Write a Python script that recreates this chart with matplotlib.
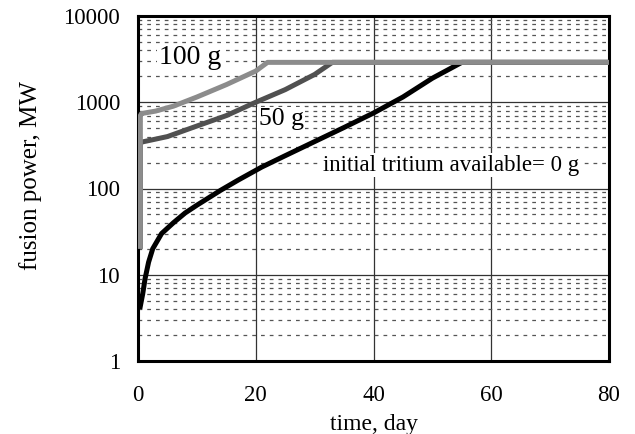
import numpy as np
import matplotlib
matplotlib.use('Agg')
import matplotlib.pyplot as plt
from matplotlib.ticker import LogLocator, NullFormatter

plt.rcParams['font.family'] = ['Liberation Serif', 'DejaVu Serif']

# curves (time in days, power in MW)
t_100 = [0.4, 0.4, 0.6, 3, 6, 10, 15, 20, 22, 80]
p_100 = [20, 700, 740, 790, 900, 1150, 1600, 2300, 2900, 2900]

t_50 = [0.4, 0.4, 0.6, 5, 10, 15, 20, 25, 30, 33, 80]
p_50 = [20, 330, 345, 400, 530, 700, 1000, 1400, 2100, 2900, 2900]

t_0 = [0.3, 0.8, 1.2, 1.8, 2.5, 4, 6, 8, 10, 14, 17, 21, 25, 30, 35, 40, 45, 50, 55, 80]
p_0 = [4, 6, 9, 14, 20, 30, 40, 52, 64, 95, 125, 177, 240, 350, 510, 750, 1150, 1900, 2900, 2900]

x_ticks = [0, 20, 40, 60, 80]
y_ticks = [1, 10, 100, 1000, 10000]
y_labels = ['1', '10', '100', '1000', '10000']

fig = plt.figure(figsize=(6.35, 4.34), dpi=100)
ax = fig.add_axes([138/635, 1 - 361/434, (609-138)/635, (361-16)/434])

ax.plot(t_0, p_0, color='black', lw=3.6, solid_capstyle='butt', zorder=3)
ax.plot(t_50, p_50, color='#505050', lw=3.6, solid_capstyle='butt', zorder=4)
ax.plot(t_100, p_100, color='#8c8c8c', lw=3.6, solid_capstyle='butt', zorder=5)

ax.set_yscale('log')
ax.set_xlim(0, 80)
ax.set_ylim(1, 10000)
ax.set_xticks(x_ticks)
ax.set_yticks(y_ticks)
ax.set_yticklabels(y_labels)
ax.yaxis.set_minor_locator(LogLocator(base=10, subs=np.arange(2, 10)))
ax.yaxis.set_minor_formatter(NullFormatter())
ax.tick_params(which='both', length=0, labelsize=16.5, pad=13)
ax.tick_params(axis='x', pad=17)

ax.grid(True, which='major', axis='both', color='#333333', lw=0.9)
ax.grid(True, which='minor', axis='y', color='#555555', lw=0.9, ls=(0, (3, 4)))
ax.set_axisbelow(True)
for s in ax.spines.values():
    s.set_linewidth(2.2)

ax.set_xlabel('time, day', fontsize=17, labelpad=6)
ax.set_ylabel('fusion power, MW', fontsize=18)
ax.yaxis.set_label_coords(-0.204, 0.539)

box = dict(facecolor='white', edgecolor='none', pad=1)
ax.text(8.8, 3300, '100 g', fontsize=20, ha='center', va='center', bbox=box, zorder=2)
ax.text(24.3, 640, '50 g', fontsize=18.5, ha='center', va='center', bbox=box, zorder=2)
ax.text(53.2, 187, 'initial tritium available= 0 g', fontsize=16.5, ha='center', va='center', bbox=box, zorder=2)

fig.savefig('out.png', dpi=100)
